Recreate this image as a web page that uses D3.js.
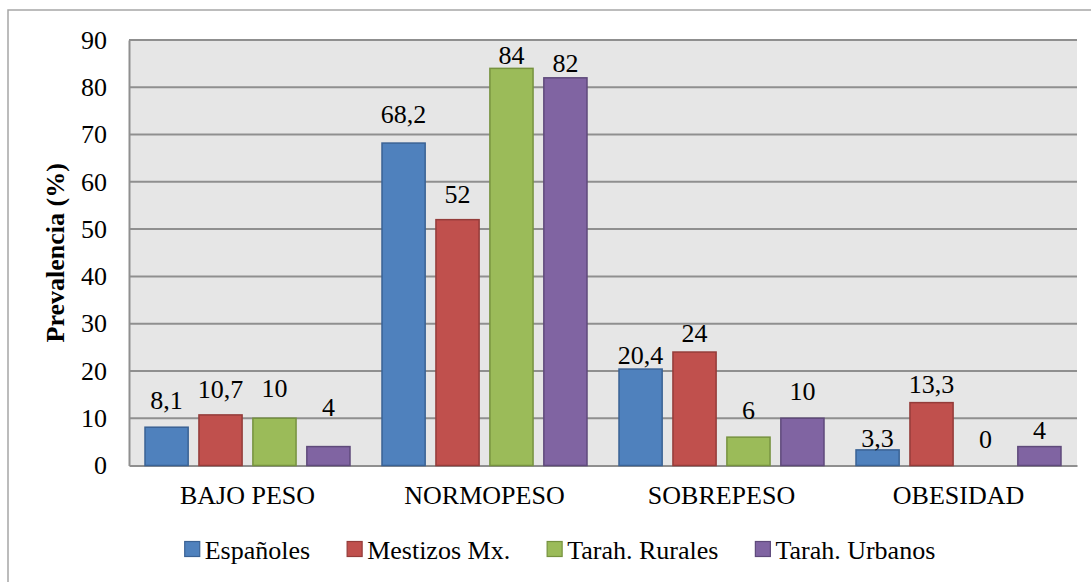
<!DOCTYPE html>
<html>
<head>
<meta charset="utf-8">
<script src="https://cdn.jsdelivr.net/npm/d3@7"></script>
</head>
<body style="margin:0; background:#ffffff">
<svg id="chart" width="1091" height="582" style="display:block"></svg>
<script>
// Prevalence of weight status by population group
const categories = ["BAJO PESO", "NORMOPESO", "SOBREPESO", "OBESIDAD"];
const seriesNames = ["Españoles", "Mestizos Mx.", "Tarah. Rurales", "Tarah. Urbanos"];
const espanoles = [8.1, 68.2, 20.4, 3.3];
const mestizos = [10.7, 52, 24, 13.3];
const tarahRurales = [10, 84, 6, 0];
const tarahUrbanos = [4, 82, 10, 4];
const labelTexts = [
  ["8,1", "68,2", "20,4", "3,3"],
  ["10,7", "52", "24", "13,3"],
  ["10", "84", "6", "0"],
  ["4", "82", "10", "4"]
];
const yTicks = [0, 10, 20, 30, 40, 50, 60, 70, 80, 90];

// Styling / layout
const fills = ["#4f81bd", "#c0504d", "#9bbb59", "#8064a2"];
const strokes = ["#3a6294", "#943c3a", "#76923f", "#5f4a7b"];
// vertical space between a bar top and its value label (px)
const labelGap = [
  [18, 20, 5, 3],
  [17, 17, 10, 10],
  [21, 4, 18, 18],
  [31, 6, 18, 8]
];
const FONT = '"Liberation Serif", "Times New Roman", serif';
const fontSize = "26px";

function serif(sel) {
  return sel.style("font-family", FONT).style("font-size", fontSize).attr("fill", "#000");
}

const seriesValues = [espanoles, mestizos, tarahRurales, tarahUrbanos];
const rows = categories.map((c, i) => ({
  category: c,
  values: seriesValues.map((s, j) => ({ series: j, value: s[i], label: labelTexts[j][i], gap: labelGap[j][i] }))
}));

const svg = d3.select("#chart");
const plot = { left: 129, right: 1077, top: 40, bottom: 465.5 };

// outer chart frame
svg.append("rect")
  .attr("x", 8).attr("y", 10)
  .attr("width", 1120).attr("height", 620)
  .attr("fill", "none").attr("stroke", "#a6a6a6").attr("stroke-width", 1.5);

const x0 = d3.scaleBand().domain(categories).range([plot.left, plot.right]).padding(0);
const inner = 16;
const x1 = d3.scaleBand().domain(d3.range(seriesNames.length))
  .range([inner, x0.bandwidth() - inner]).paddingInner(0.2).paddingOuter(0);
const y = d3.scaleLinear().domain([0, 90]).range([plot.bottom, plot.top]);

// plot background
svg.append("rect")
  .attr("x", plot.left).attr("y", plot.top)
  .attr("width", plot.right - plot.left).attr("height", plot.bottom - plot.top)
  .attr("fill", "#e6e6e6");

// horizontal gridlines
svg.append("g").selectAll("line").data(yTicks.filter(t => t > 0)).join("line")
  .attr("x1", plot.left).attr("x2", plot.right)
  .attr("y1", d => y(d)).attr("y2", d => y(d))
  .attr("stroke", "#8f8f8f").attr("stroke-width", 2);

// y axis
const yAxis = svg.append("g")
  .attr("transform", `translate(${plot.left},0)`)
  .call(d3.axisLeft(y).tickValues(yTicks).tickSize(0).tickPadding(22));
yAxis.select(".domain").attr("stroke", "#8f8f8f").attr("stroke-width", 2);
serif(yAxis.selectAll("text"));

// x axis
const xAxis = svg.append("g")
  .attr("transform", `translate(0,${plot.bottom})`)
  .call(d3.axisBottom(x0).tickSize(0).tickPadding(20));
xAxis.select(".domain").attr("stroke", "#8f8f8f").attr("stroke-width", 2);
serif(xAxis.selectAll("text"));

// bars
const groups = svg.append("g").selectAll("g").data(rows).join("g")
  .attr("transform", d => `translate(${x0(d.category)},0)`);

groups.selectAll("rect").data(d => d.values.filter(v => v.value > 0)).join("rect")
  .attr("x", d => x1(d.series))
  .attr("y", d => y(d.value))
  .attr("width", x1.bandwidth())
  .attr("height", d => y(0) - y(d.value))
  .attr("fill", d => fills[d.series])
  .attr("stroke", d => strokes[d.series])
  .attr("stroke-width", 1.5);

// value labels
serif(groups.selectAll("text").data(d => d.values).join("text")
  .attr("x", d => x1(d.series) + x1.bandwidth() / 2)
  .attr("y", d => y(d.value) - d.gap)
  .attr("text-anchor", "middle")
  .text(d => d.label));

// y axis title
serif(svg.append("text")
  .attr("transform", `translate(64,${(plot.top + plot.bottom) / 2}) rotate(-90)`)
  .attr("text-anchor", "middle")
  .style("font-weight", "bold")
  .text("Prevalencia (%)"));

// legend
const legend = svg.append("g");
const sw = 15, textGap = 5, itemGap = 37;
let cursor = 0;
seriesNames.forEach((name, i) => {
  const item = legend.append("g").attr("transform", `translate(${cursor},0)`);
  item.append("rect")
    .attr("x", 0).attr("y", -sw / 2 - 1)
    .attr("width", sw).attr("height", sw)
    .attr("fill", fills[i]).attr("stroke", strokes[i]).attr("stroke-width", 1.2);
  const t = serif(item.append("text")
    .attr("x", sw + textGap).attr("y", 0)
    .attr("dy", "0.33em")
    .text(name));
  cursor += sw + textGap + t.node().getComputedTextLength() + itemGap;
});
const legendWidth = cursor - itemGap;
legend.attr("transform", `translate(${560 - legendWidth / 2},550)`);
</script>
</body>
</html>
